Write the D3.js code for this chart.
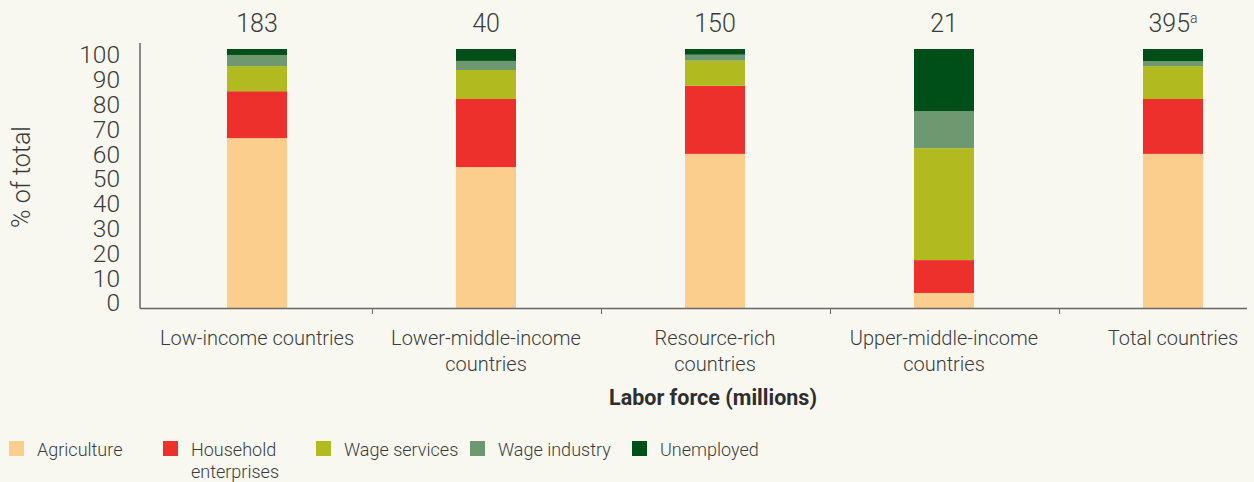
<!DOCTYPE html>
<html>
<head>
<meta charset="utf-8">
<script src="https://cdn.jsdelivr.net/npm/d3@7"></script>
<style>
  html, body { margin: 0; padding: 0; background: #f8f8f1; }
  svg { display: block; font-family: Roboto, "Liberation Sans", sans-serif; }
  .tick text { fill: #3c3c3c; }
</style>
</head>
<body>
<div id="canvas"></div>
<script>
// data
var categories = ['Low-income countries', 'Lower-middle-income countries', 'Resource-rich countries', 'Upper-middle-income countries', 'Total countries'];
var catLines = [['Low-income countries'], ['Lower-middle-income', 'countries'], ['Resource-rich', 'countries'], ['Upper-middle-income', 'countries'], ['Total countries']];
var laborForce = ['183', '40', '150', '21', '395'];
var seriesNames = ['Agriculture', 'Household enterprises', 'Wage services', 'Wage industry', 'Unemployed'];
var agriculture = [65.6, 54.4, 59.5, 5.8, 59.5];
var household = [18.1, 26.3, 26.3, 12.7, 21.2];
var wageServices = [9.7, 11.2, 9.7, 43.2, 12.7];
var wageIndustry = [4.3, 3.5, 2.3, 14.3, 1.9];
var unemployed = [2.3, 4.6, 2.2, 24.0, 4.7];
var yTicks = [0, 10, 20, 30, 40, 50, 60, 70, 80, 90, 100];
var colors = ['#fbce8e', '#ee302d', '#b1bb1f', '#6e9870', '#004f19'];

var W = 1254, H = 482;
var svg = d3.select('#canvas').append('svg')
    .attr('width', W)
    .attr('height', H);

// build rows for the stack
var rows = categories.map(function(c, i) {
    return {
        cat: c,
        'Agriculture': agriculture[i],
        'Household enterprises': household[i],
        'Wage services': wageServices[i],
        'Wage industry': wageIndustry[i],
        'Unemployed': unemployed[i]
    };
});
var stacked = d3.stack().keys(seriesNames)(rows);

// scales
var x = d3.scaleBand().domain(categories).range([142.5, 1287.5]).padding(0);
var y = d3.scaleLinear().domain([0, 100]).range([308, 49]);
var yLab = d3.scaleLinear().domain([0, 100]).range([303, 55]); // labels sit a bit tighter than the bars
var color = d3.scaleOrdinal().domain(seriesNames).range(colors);
var barW = 60;

// bars
svg.append('g').selectAll('g')
    .data(stacked)
    .enter().append('g')
    .attr('fill', function(d) { return color(d.key); })
    .selectAll('rect')
    .data(function(d) { return d; })
    .enter().append('rect')
    .attr('x', function(d) { return x(d.data.cat) + x.bandwidth() / 2 - barW / 2; })
    .attr('y', function(d) { return y(d[1]); })
    .attr('width', barW)
    .attr('height', function(d) { return y(d[0]) - y(d[1]); });

// y axis
var axisY = d3.axisLeft(yLab).tickValues(yTicks).tickSize(0).tickPadding(20);
var gy = svg.append('g').attr('transform', 'translate(140,0)').call(axisY);
gy.select('.domain').remove();
gy.attr('font-family', null);
gy.selectAll('text')
    .style('font-family', 'Roboto, sans-serif')
    .style('font-size', '24.5px')
    .style('font-weight', 300);
svg.append('line')
    .attr('x1', 140).attr('x2', 140).attr('y1', 43).attr('y2', 308.5)
    .attr('stroke', '#666').attr('stroke-width', 1.5);

// x axis line and ticks between categories
svg.append('line')
    .attr('x1', 140).attr('x2', 1247).attr('y1', 308.5).attr('y2', 308.5)
    .attr('stroke', '#666').attr('stroke-width', 1.5);
svg.append('g').selectAll('line')
    .data(categories.slice(1))
    .enter().append('line')
    .attr('x1', function(d) { return Math.round(x(d)) + 0.5; })
    .attr('x2', function(d) { return Math.round(x(d)) + 0.5; })
    .attr('y1', 308).attr('y2', 314)
    .attr('stroke', '#666').attr('stroke-width', 1);

// category labels
var catG = svg.append('g').selectAll('text')
    .data(categories)
    .enter().append('text')
    .attr('text-anchor', 'middle')
    .attr('fill', '#3c3c3c')
    .style('font-size', '20px')
    .style('font-weight', 300)
    .attr('x', function(d) { return x(d) + x.bandwidth() / 2; })
    .attr('y', 345);
catG.selectAll('tspan')
    .data(function(d, i) { return catLines[i]; })
    .enter().append('tspan')
    .attr('x', function() { var p = d3.select(this.parentNode).datum(); return x(p) + x.bandwidth() / 2; })
    .attr('dy', function(d, i) { return i ? 26 : 0; })
    .text(function(d) { return d; });

// labor force numbers on top
var topLabels = svg.append('g').selectAll('text')
    .data(categories)
    .enter().append('text')
    .attr('text-anchor', 'middle')
    .attr('fill', '#3c3c3c')
    .style('font-size', '25px')
    .style('font-weight', 300)
    .attr('x', function(d) { return x(d) + x.bandwidth() / 2; })
    .attr('y', 32)
    .text(function(d, i) { return laborForce[i]; });
topLabels.filter(function(d, i) { return i === 4; })
    .append('tspan')
    .attr('dy', -9)
    .style('font-size', '14px')
    .text('a');

// axis titles
svg.append('text')
    .attr('transform', 'translate(30,177) rotate(-90)')
    .attr('text-anchor', 'middle')
    .attr('fill', '#3c3c3c')
    .style('font-size', '25px')
    .style('font-weight', 300)
    .text('% of total');
svg.append('text')
    .attr('x', 713).attr('y', 405)
    .attr('text-anchor', 'middle')
    .attr('fill', '#2e2e2e')
    .style('font-size', '21.5px')
    .style('font-weight', 700)
    .text('Labor force (millions)');

// legend
var legendX = [9, 163, 316, 470, 632];
var legendLines = [['Agriculture'], ['Household', 'enterprises'], ['Wage services'], ['Wage industry'], ['Unemployed']];
var lg = svg.append('g').selectAll('g')
    .data(seriesNames)
    .enter().append('g')
    .attr('transform', function(d, i) { return 'translate(' + legendX[i] + ',441)'; });
lg.append('rect')
    .attr('width', 15).attr('height', 15)
    .attr('fill', function(d) { return color(d); });
lg.append('text')
    .attr('fill', '#3c3c3c')
    .style('font-size', '18px')
    .style('font-weight', 300)
    .attr('y', 15)
    .selectAll('tspan')
    .data(function(d, i) { return legendLines[i]; })
    .enter().append('tspan')
    .attr('x', 28)
    .attr('dy', function(d, i) { return i ? 22 : 0; })
    .text(function(d) { return d; });
</script>
</body>
</html>
